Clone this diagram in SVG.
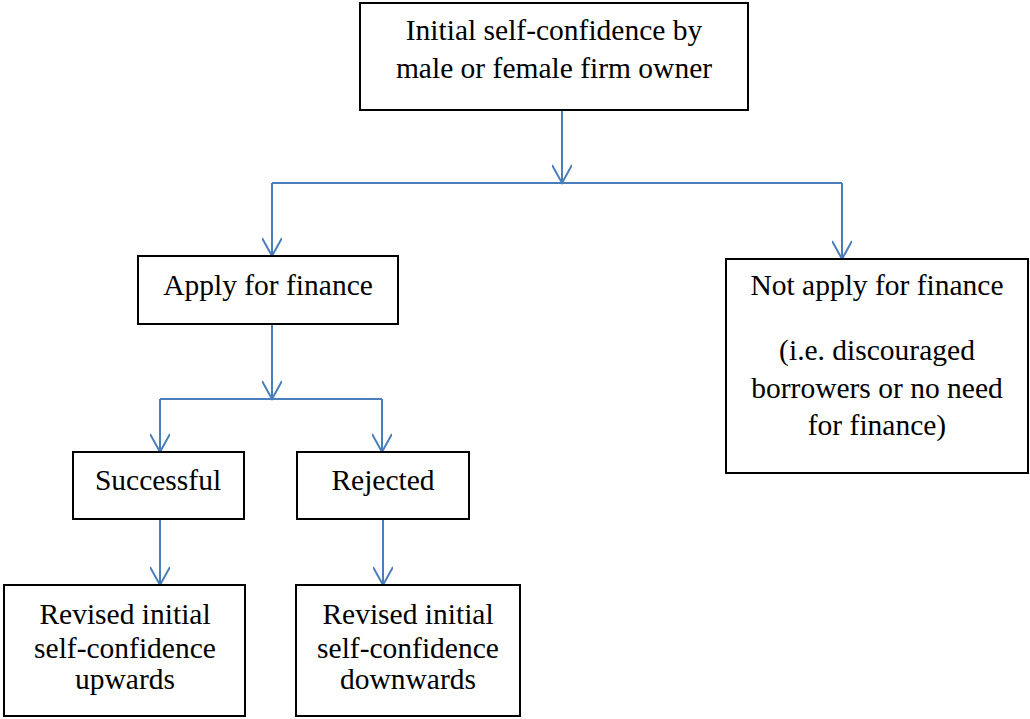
<svg xmlns="http://www.w3.org/2000/svg" width="1030" height="719" viewBox="0 0 1030 719">
<style>
.box{fill:#fff;stroke:#000;stroke-width:2}
.t{font-family:"Liberation Serif","Times New Roman",serif;font-size:29.5px;fill:#000;text-anchor:middle}
.c{fill:none;stroke:#4a7ebb;stroke-width:2}
</style>
<defs>
<marker id="ah" markerWidth="22" markerHeight="20" refX="19" refY="10" orient="auto" markerUnits="userSpaceOnUse">
<path d="M1,0 L19,10 L1,20" fill="none" stroke="#4a7ebb" stroke-width="2"/>
</marker>
</defs>
<rect width="1030" height="719" fill="#fff"/>
<g id="connectors">
<line class="c" x1="562" y1="110" x2="562" y2="183" marker-end="url(#ah)"/>
<polyline class="c" points="272,183 842,183"/>
<line class="c" x1="272" y1="183" x2="272" y2="256" marker-end="url(#ah)"/>
<line class="c" x1="842" y1="183" x2="842" y2="259" marker-end="url(#ah)"/>
<line class="c" x1="272" y1="324" x2="272" y2="399" marker-end="url(#ah)"/>
<polyline class="c" points="160,399 382,399"/>
<line class="c" x1="160" y1="399" x2="160" y2="452" marker-end="url(#ah)"/>
<line class="c" x1="382" y1="399" x2="382" y2="452" marker-end="url(#ah)"/>
<line class="c" x1="160" y1="519" x2="160" y2="585" marker-end="url(#ah)"/>
<line class="c" x1="383" y1="519" x2="383" y2="585" marker-end="url(#ah)"/>
</g>
<g id="n-initial">
<rect class="box" x="360" y="3" width="388" height="107"/>
<text class="t" x="554" y="40">Initial self-confidence by</text>
<text class="t" x="554" y="78">male or female firm owner</text>
</g>
<g id="n-apply">
<rect class="box" x="138" y="256" width="260" height="68"/>
<text class="t" x="268" y="295">Apply for finance</text>
</g>
<g id="n-notapply">
<rect class="box" x="726" y="259" width="302" height="214"/>
<text class="t" x="877" y="295">Not apply for finance</text>
<text class="t" x="877" y="360">(i.e. discouraged</text>
<text class="t" x="877" y="398">borrowers or no need</text>
<text class="t" x="877" y="435">for finance)</text>
</g>
<g id="n-successful">
<rect class="box" x="73" y="452" width="171" height="67"/>
<text class="t" x="158" y="490">Successful</text>
</g>
<g id="n-rejected">
<rect class="box" x="297" y="452" width="172" height="67"/>
<text class="t" x="383" y="490">Rejected</text>
</g>
<g id="n-upwards">
<rect class="box" x="4" y="585" width="241" height="131"/>
<text class="t" x="125" y="624">Revised initial</text>
<text class="t" x="125" y="658">self-confidence</text>
<text class="t" x="125" y="689">upwards</text>
</g>
<g id="n-downwards">
<rect class="box" x="296" y="585" width="224" height="131"/>
<text class="t" x="408" y="624">Revised initial</text>
<text class="t" x="408" y="658">self-confidence</text>
<text class="t" x="408" y="689">downwards</text>
</g>
</svg>
